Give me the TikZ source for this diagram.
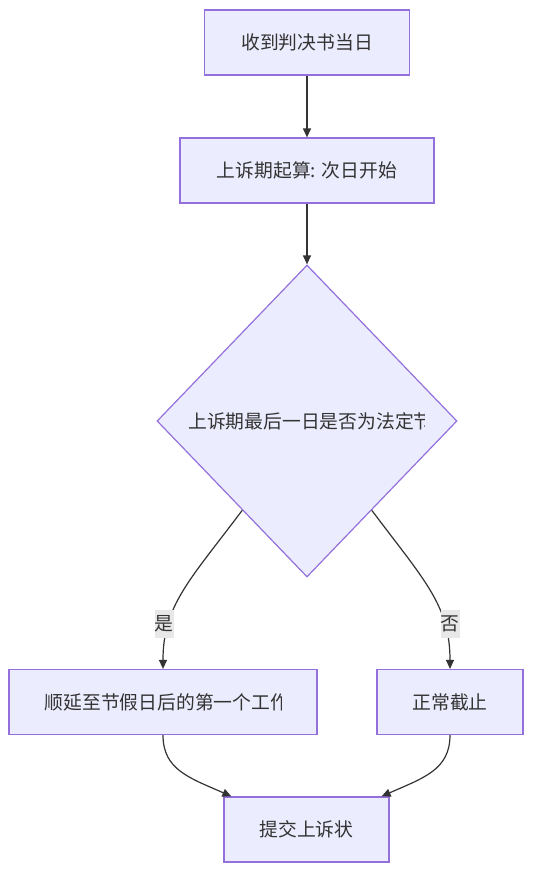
\documentclass[tikz,border=0pt]{standalone}
\usepackage{fontspec}
\newfontfamily\cjk{Noto Sans CJK SC}
\usetikzlibrary{shapes.geometric,arrows.meta,calc}
\definecolor{mmfill}{HTML}{ECECFF}
\definecolor{mmborder}{HTML}{9370DB}
\definecolor{mmline}{HTML}{333333}
\definecolor{mmlabel}{HTML}{E8E8E8}

\tikzstyle{block}=[rectangle,draw=mmborder,fill=mmfill,line width=1.2pt,minimum height=65pt,inner sep=0pt,text=mmline,font=\cjk\fontsize{18.8}{22}\selectfont]
\tikzstyle{decision}=[diamond,draw=mmborder,fill=mmfill,line width=1.2pt,minimum width=300pt,minimum height=312pt,inner sep=0pt]
\tikzstyle{cliptext}=[inner sep=0pt,anchor=west,text=mmline,font=\cjk\fontsize{18.8}{22}\selectfont]
\tikzstyle{edge}=[draw,line width=1.2pt,mmline,-{Triangle[length=9pt,width=8pt]}]
\tikzstyle{answer}=[fill=mmlabel,inner sep=0pt,minimum width=19pt,minimum height=28pt,text=mmline,font=\cjk\fontsize{18.8}{22}\selectfont]

\begin{document}
\begin{tikzpicture}[x=1pt,y=-1pt]
\useasboundingbox (0,0) rectangle (534,873);
\foreach \pos/\name/\w/\txt in {{(307,42.5)/recv/205/收到判决书当日}, {(307,170.5)/start/254/上诉期起算: 次日开始},
                               {(450,702)/normal/146/正常截止}, {(306.5,829.5)/submit/165/提交上诉状}}{
  \node[block,minimum width=\w pt] (\name) at \pos {\txt};
}
\node[block,minimum width=308pt] (delay) at (163,702) {};
\node[decision] (dec) at (307,421) {};
% texts cut off at the right, as printed
\begin{scope}
  \clip (180,400) rectangle (424.5,445);
  \node[cliptext] (dectext) at (188,421) {上诉期最后一日是否为法定节};
\end{scope}
\begin{scope}
  \clip (30,680) rectangle (281.5,725);
  \node[cliptext] (delaytext) at (44.5,702) {顺延至节假日后的第一个工作};
\end{scope}
\foreach \source/\dest in {recv/start, start/dec}{
  \path[edge] (\source) -- (\dest);
}
\path[edge] ($(dec.west)!0.57!(dec.south)$) .. controls (190,580) and (163,605) .. (delay.north);
\path[edge] ($(dec.east)!0.57!(dec.south)$) .. controls (424,580) and (450,605) .. (normal.north);
\path[edge] (delay.south) .. controls (163,770) and (190,778) .. ($(submit.north west)+(8,0)$);
\path[edge] (normal.south) .. controls (450,770) and (423,778) .. ($(submit.north east)+(-8,0)$);
\node[answer] (yes) at (164,624) {是};
\node[answer] (no) at (450,624) {否};
\end{tikzpicture}
\end{document}
